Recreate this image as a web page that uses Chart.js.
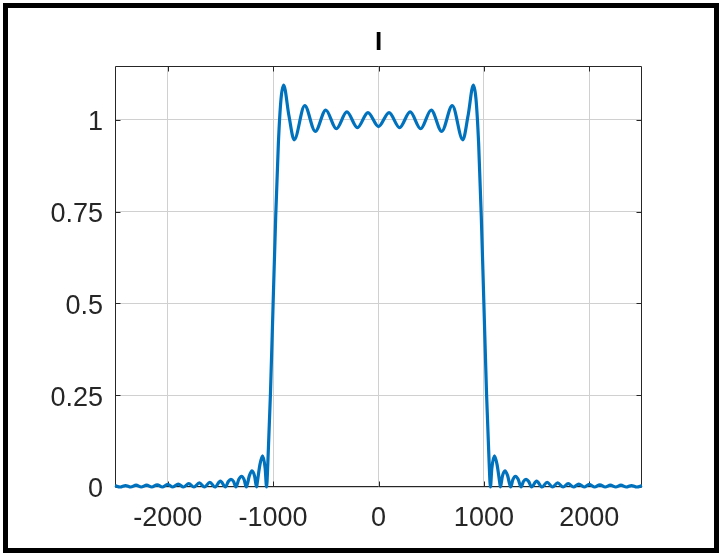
<!DOCTYPE html>
<html><head><meta charset="utf-8">
<script src="https://cdn.jsdelivr.net/npm/chart.js@4.4.1/dist/chart.umd.min.js"></script>
<style>
html,body{margin:0;padding:0;background:#fff;}
#wrap{position:relative;width:719px;height:556px;overflow:hidden;background:#fff;}
canvas{position:absolute;left:0;top:0;}
#frame{position:absolute;left:3px;top:3px;width:716px;height:550px;box-sizing:border-box;border:5px solid #000;pointer-events:none;}
</style></head>
<body><div id="wrap"><canvas id="c" width="719" height="556"></canvas><div id="frame"></div></div>
<script>
const titleText = 'I';
const xPositions = [-2500,-2451,-2400,-2351,-2300,-2251,-2200,-2151,-2100,-2051,-2000,-1951,-1900,-1851,-1800,-1751,-1700,-1651,-1600,-1552,-1500,-1452,-1425,-1400,-1375,-1353,-1325,-1300,-1275,-1254,-1225,-1200,-1175,-1157,-1150,-1125,-1100,-1075,-1062,-1050,-1025,-1000,-975,-950,-925,-900,-850,-800,-700,-600,-500,-400,-300,-200,-100,
0,
100,200,300,400,500,600,700,800,850,900,925,950,975,1000,1025,1050,1062,1075,1100,1125,1150,1157,1175,1200,1225,1254,1275,1300,1325,1353,1375,1400,1425,1452,1500,1552,1600,1651,1700,1751,1800,1851,1900,1951,2000,2051,2100,2151,2200,2251,2300,2351,2400,2451,2500];
const intensity = [0.004,0,0.004,0,0.005,0,0.005,0,0.006,0,0.007,0,0.008,0,0.009,0,0.011,0,0.013,0,0.016,0,0.015,0.021,0.015,0,0.021,0.029,0.020,0,0.031,0.044,0.029,0,0.012,0.061,0.085,0.050,0,0.064,0.255,0.498,0.739,0.936,1.057,1.095,1.012,0.946,1.039,0.969,1.027,0.976,1.022,0.979,1.020,
0.982,
1.020,0.979,1.022,0.976,1.027,0.969,1.039,0.946,1.012,1.095,1.057,0.936,0.739,0.498,0.255,0.064,0,0.050,0.085,0.061,0.012,0,0.029,0.044,0.031,0,0.020,0.029,0.021,0,0.015,0.021,0.015,0,0.016,0,0.013,0,0.011,0,0.009,0,0.008,0,0.007,0,0.006,0,0.005,0,0.005,0,0.004,0,0.004];
const xTicks = [-2000,-1000,0,1000,2000];
const xTickLabels = ['-2000','-1000','0','1000','2000'];
const yTicks = [0,0.25,0.5,0.75,1];
const yTickLabels = ['0','0.25','0.5','0.75','1'];
const xRange = [-2500, 2500];
const yRange = [0, 1.147];

const points = xPositions.map((x,i)=>({x:x, y:intensity[i]}));
const FONT = "'Liberation Sans', Arial, Helvetica, sans-serif";

const boxPlugin = {
  id:'box',
  beforeDatasetsDraw(chart){
    const {ctx, chartArea:a, scales} = chart;
    const xs = scales.x, ys = scales.y;
    const L=Math.round(a.left)+0.5, R=Math.round(a.right)-0.5, T=Math.round(a.top)+0.5, B=Math.round(a.bottom)-0.5;
    ctx.save();
    ctx.strokeStyle='#262626'; ctx.lineWidth=1;
    ctx.beginPath();
    ctx.moveTo(L,T); ctx.lineTo(R,T); ctx.lineTo(R,B); ctx.lineTo(L,B); ctx.closePath();
    const tl=5;
    xTicks.forEach(v=>{const p=Math.round(xs.getPixelForValue(v))+0.5; ctx.moveTo(p,B); ctx.lineTo(p,B-tl); ctx.moveTo(p,T); ctx.lineTo(p,T+tl);});
    yTicks.forEach(v=>{const p=Math.round(ys.getPixelForValue(v))+0.5; ctx.moveTo(L,p); ctx.lineTo(L+tl,p); ctx.moveTo(R,p); ctx.lineTo(R-tl,p);});
    ctx.stroke();
    ctx.restore();
  }
};

new Chart(document.getElementById('c'), {
  type:'line',
  data:{datasets:[{data:points, borderColor:'#0072BD', borderWidth:3.2, pointRadius:0, fill:false, cubicInterpolationMode:'monotone', clip:4}]},
  options:{
    responsive:false, animation:false, devicePixelRatio:1,
    layout:{padding:{left:0,right:77,top:0,bottom:0}},
    plugins:{
      legend:{display:false}, tooltip:{enabled:false},
      title:{display:true, text:titleText, color:'#000', fullSize:false, font:{family:FONT, size:26, weight:'bold', lineHeight:1.2}, padding:{top:27,bottom:7.8}}
    },
    scales:{
      x:{type:'linear', min:xRange[0], max:xRange[1],
        afterBuildTicks(s){ s.ticks = xTicks.map(v=>({value:v})); },
        afterFit(s){ s.height = 69; },
        grid:{color:'#d0d0d0', drawTicks:false, lineWidth:1},
        border:{display:false},
        ticks:{padding:15, color:'#262626', font:{family:FONT, size:27}, maxRotation:0,
          callback(v){ const i=xTicks.indexOf(v); return i>=0?xTickLabels[i]:''; }}
      },
      y:{type:'linear', min:yRange[0], max:yRange[1],
        afterBuildTicks(s){ s.ticks = yTicks.map(v=>({value:v})); },
        afterFit(s){ s.width = 115; },
        grid:{color:'#d0d0d0', drawTicks:false, lineWidth:1},
        border:{display:false},
        ticks:{padding:12, labelOffset:3, color:'#262626', font:{family:FONT, size:27},
          callback(v){ const i=yTicks.indexOf(v); return i>=0?yTickLabels[i]:''; }}
      }
    }
  },
  plugins:[boxPlugin]
});
</script>
</body></html>
